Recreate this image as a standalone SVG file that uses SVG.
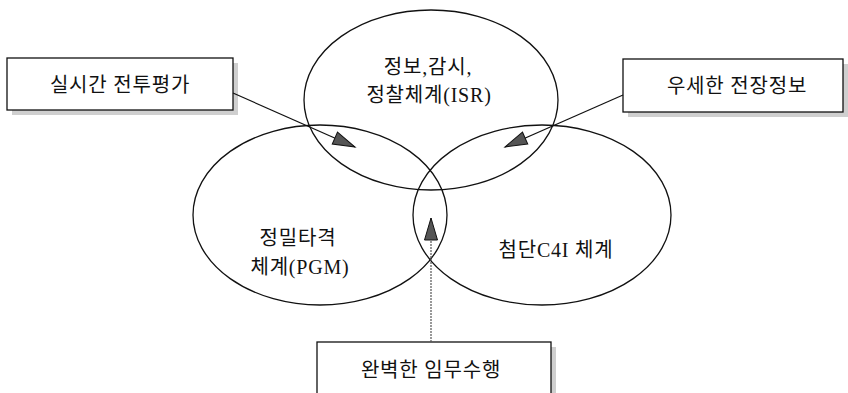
<svg xmlns="http://www.w3.org/2000/svg" width="848" height="393" viewBox="0 0 848 393">
<style>
.ell{fill:none;stroke:#111;stroke-width:1.3}
.box{fill:#fff;stroke:#111;stroke-width:1.3}
.shd{fill:#cfcfcf}
.t{font-family:"Liberation Serif","Noto Sans CJK KR",serif;font-size:20px;fill:#111;text-anchor:middle;letter-spacing:0.8px}
.arr{fill:none;stroke:#111;stroke-width:1.2}
.dot{fill:none;stroke:#555;stroke-width:1.2;stroke-dasharray:2 1}
</style>
<defs>
<marker id="ah" markerUnits="userSpaceOnUse" markerWidth="24" markerHeight="14" refX="22" refY="6.5" orient="auto" overflow="visible">
<path d="M0,0 L22,6.5 L0,13 z" fill="#555" stroke="#111" stroke-width="1"/>
</marker>
</defs>
<rect width="848" height="393" fill="#fff"/>
<g id="isr">
<ellipse class="ell" cx="431" cy="100" rx="127" ry="90"/>
<text class="t" x="428" y="74">정보,감시,</text>
<text class="t" x="429" y="102">정찰체계(ISR)</text>
</g>
<g id="pgm">
<ellipse class="ell" cx="320" cy="215" rx="127" ry="90"/>
<text class="t" x="298" y="245">정밀타격</text>
<text class="t" x="300" y="274">체계(PGM)</text>
</g>
<g id="c4i">
<ellipse class="ell" cx="542" cy="215" rx="129" ry="90"/>
<text class="t" x="556" y="257">첨단C4I 체계</text>
</g>
<g id="box-left">
<rect class="shd" x="12" y="63" width="226" height="52"/>
<rect class="box" x="7" y="58" width="226" height="52"/>
<text class="t" x="120" y="92">실시간 전투평가</text>
</g>
<g id="box-right">
<rect class="shd" x="628" y="64" width="220" height="53"/>
<rect class="box" x="623" y="59" width="220" height="53"/>
<text class="t" x="737" y="93">우세한 전장정보</text>
</g>
<g id="box-bottom">
<rect class="shd" x="322" y="347" width="234" height="60"/>
<rect class="box" x="317" y="342" width="234" height="60"/>
<text class="t" x="431" y="377">완벽한 임무수행</text>
</g>
<g id="connectors">
<line class="arr" x1="233" y1="93" x2="355" y2="147" marker-end="url(#ah)"/>
<line class="arr" x1="623" y1="95" x2="505" y2="147" marker-end="url(#ah)"/>
<line class="dot" x1="431" y1="342" x2="431" y2="218" marker-end="url(#ah)"/>
</g>
</svg>
